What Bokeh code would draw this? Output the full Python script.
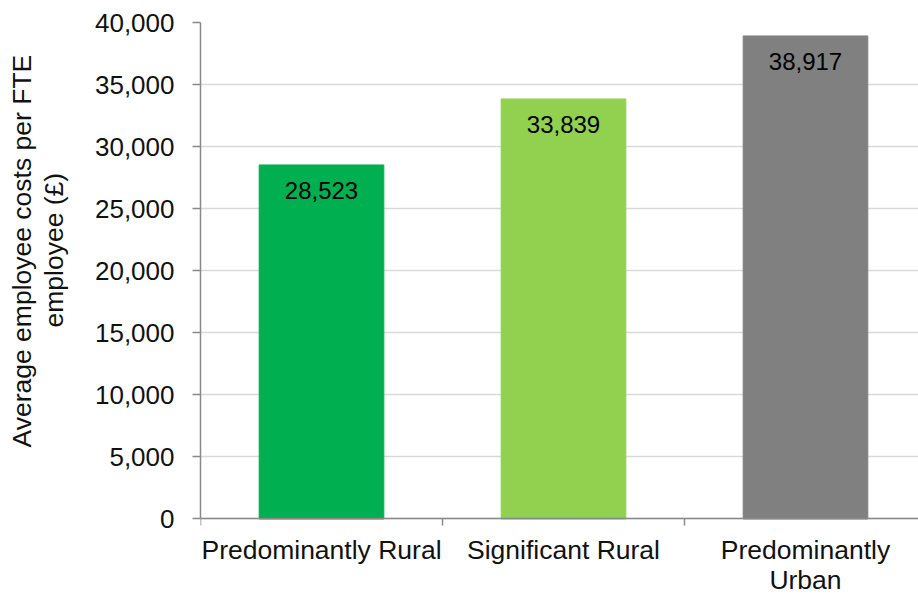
from bokeh.plotting import figure
from bokeh.models import (ColumnDataSource, FixedTicker, NumeralTickFormatter,
                          Range1d, Title)
from bokeh.core.properties import value
from bokeh.embed import file_html
from bokeh.resources import INLINE

# Average employee costs per FTE employee by rural-urban classification
categories = ["Predominantly Rural", "Significant Rural", "Predominantly Urban"]
cost_per_fte = [28523, 33839, 38917]
bar_colors = ["#00B050", "#92D050", "#808080"]
category_tick_labels = ["Predominantly Rural", "Significant Rural", "Predominantly\nUrban"]
y_ticks = [0, 5000, 10000, 15000, 20000, 25000, 30000, 35000, 40000]
y_title_lines = ["Average employee costs per FTE", "employee (£)"]

FONT = "Liberation Sans"
TEXT = "#111111"
AXIS = "#898989"

# the frame runs to the bottom of the page; the value axis stops at 0
Y_MAX = 40000
Y_MIN = -6244

x_pos = [i + 0.5 for i in range(len(categories))]
source = ColumnDataSource(dict(
    x=x_pos,
    cost=cost_per_fte,
    color=bar_colors,
    label=[f"{v:,}" for v in cost_per_fte],
))

p = figure(
    width=918, height=596,
    output_backend="svg", toolbar_location=None,
    x_range=Range1d(0, 718 / 242), y_range=Range1d(Y_MIN, Y_MAX),
    min_border_left=200, min_border_right=0,
    min_border_top=22, min_border_bottom=0,
)
p.outline_line_color = None
p.background_fill_color = "white"
p.border_fill_color = "white"

p.vbar(x="x", top="cost", width=0.515, color="color", source=source)

# value labels inside the top of each bar
p.text(x="x", y="cost", text="label", source=source,
       text_align="center", text_baseline="middle", y_offset=26,
       text_font=value(FONT), text_font_size="24px", text_color="#000000")

# y axis
yax = p.yaxis[0]
yax.bounds = (0, Y_MAX)
yax.ticker = FixedTicker(ticks=y_ticks)
yax.formatter = NumeralTickFormatter(format="0,0")
yax.axis_line_color = AXIS
yax.axis_line_width = 1.5
yax.major_tick_line_color = AXIS
yax.major_tick_line_width = 1.5
yax.major_tick_out = 8
yax.major_tick_in = 0
yax.minor_tick_line_color = None
yax.major_label_text_font = FONT
yax.major_label_text_font_size = "26px"
yax.major_label_text_color = TEXT
yax.major_label_standoff = 18

# y axis title: two lines, each placed along the left edge
for line, off, gap in zip(reversed(y_title_lines), [269, 149], [46, -46]):
    p.add_layout(Title(
        text=line, align="left", offset=off, standoff=gap,
        text_font=FONT, text_font_size="26.5px", text_font_style="normal",
        text_color=TEXT,
    ), "left")

# x axis at value 0: category names, with ticks on the category boundaries
xax = p.xaxis[0]
xax.fixed_location = 0
xax.ticker = FixedTicker(ticks=x_pos, minor_ticks=[0, 1, 2, 3])
xax.major_label_overrides = {x: lab for x, lab in zip(x_pos, category_tick_labels)}
xax.axis_line_color = AXIS
xax.axis_line_width = 1.5
xax.major_tick_line_color = None
xax.major_tick_out = 0
xax.major_tick_in = 0
xax.minor_tick_line_color = AXIS
xax.minor_tick_line_width = 1.5
xax.minor_tick_out = 7
xax.minor_tick_in = 0
xax.major_label_text_font = FONT
xax.major_label_text_font_size = "26.5px"
xax.major_label_text_line_height = 1.0
xax.major_label_text_color = TEXT
xax.major_label_standoff = 9

p.xgrid.grid_line_color = None
p.ygrid.ticker = FixedTicker(ticks=y_ticks)
p.ygrid.grid_line_color = "#D9D9D9"
p.ygrid.grid_line_width = 1.5

open("out.html", "w").write(file_html(p, INLINE))
